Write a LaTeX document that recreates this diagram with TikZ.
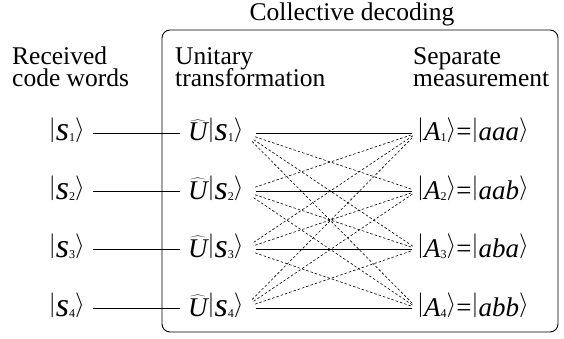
\documentclass[tikz,border=0pt]{standalone}
\usepackage{fontspec}
\setmainfont{Liberation Serif}
\newcommand\mybar{\raisebox{4.5pt}{$|$}}
\newcommand\myrang{\raisebox{4.5pt}{$\rangle$}}
\newcommand\mysub[1]{\raisebox{-1pt}{\fontsize{12}{12}\selectfont #1}}
\newcommand\sket[1]{\mybar{\fontsize{34}{34}\selectfont\itshape s}\mysub{#1}\myrang}
\newcommand\lket[2]{\mybar\textit{#1}\mysub{#2}\myrang}
\newcommand\myhatU{$\widehat{\mbox{\itshape U}}$}
\begin{document}
\begin{tikzpicture}[x=1pt,y=-1pt,
  lbl/.style={inner sep=0pt,anchor=base west,font=\fontsize{25.5}{25.5}\selectfont},
  st/.style={inner sep=0pt,text height=18pt,text depth=2pt,font=\fontsize{27}{27}\selectfont},
  conn/.style={line width=0.9pt},
  cross/.style={line width=0.6pt,dash pattern=on 2.5pt off 2pt}]
\useasboundingbox (0,0) rectangle (564,339);
\node[inner sep=0pt,anchor=base,font=\fontsize{25.5}{25.5}\selectfont] (title) at (352,21) {Collective decoding};
\draw[line width=0.9pt,rounded corners=8pt] (162,30) rectangle (558,332);
\node[lbl] (r1) at (12,65) {Received};
\node[lbl] (r2) at (12,87) {code words};
\node[lbl] (t1) at (175,65) {Unitary};
\node[lbl] (t2) at (175,87) {transformation};
\node[lbl] (m1) at (413,65) {Separate};
\node[lbl] (m2) at (413,87) {measurement};
\foreach \i/\y/\w in {1/133/aaa,2/191/aab,3/249/aba,4/308/abb}{
  \node[st,anchor=east] (s\i) at (85,\y) {\sket{\i}};
  \node[st,anchor=west] (u\i) at (188,\y) {\myhatU\sket{\i}};
  \node[st,anchor=west] (a\i) at (417,\y) {\lket{A}{\i}=\lket{\w}{}};
  \draw[conn,shorten <=8pt,shorten >=8pt] (s\i.east) -- (u\i.west);
}
\foreach \i in {1,...,4}{
  \foreach \j in {1,...,4}{
    \ifnum\i=\j
      \draw[conn,shorten <=12pt,shorten >=5pt] (u\i.east) -- (a\j.west);
    \else
      \draw[cross,shorten <=12pt,shorten >=5pt] (u\i.east) -- (a\j.west);
    \fi
  }
}
\end{tikzpicture}
\end{document}
